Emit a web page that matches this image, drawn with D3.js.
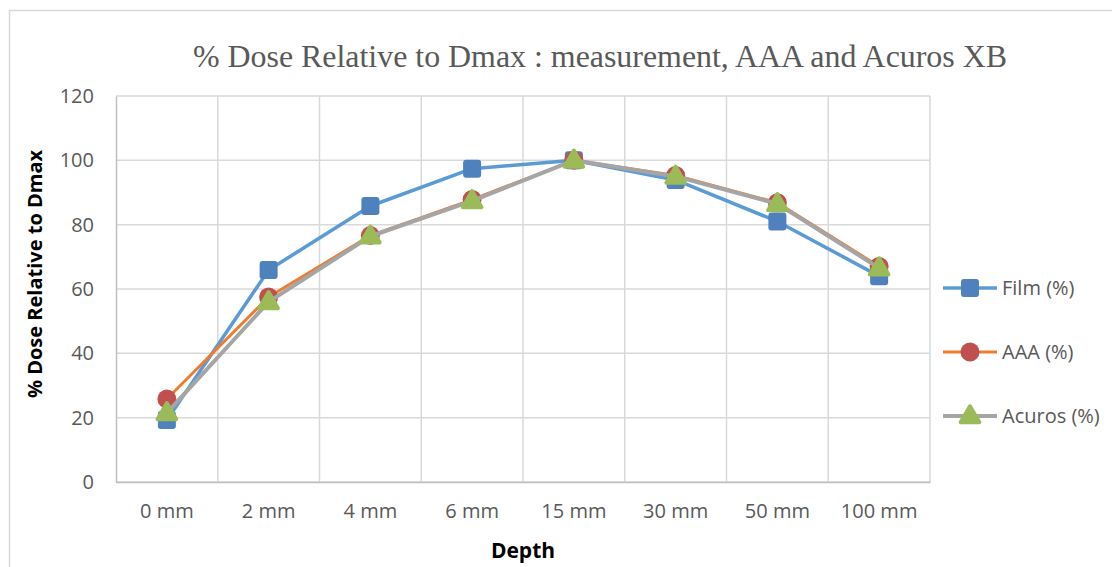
<!DOCTYPE html>
<html>
<head>
<meta charset="utf-8">
<script src="https://cdn.jsdelivr.net/npm/d3@7"></script>
<style>
  body { margin: 0; background: #fff; }
  text { font-family: "Open Sans", "Liberation Sans", sans-serif; }
</style>
</head>
<body>
<svg id="chart"></svg>
<script>
const svg_w = 1112;
const svg_h = 567;
const margin = {l:116, r:182, t:96, b:85};
const viz_w = svg_w - margin.l - margin.r;
const viz_h = svg_h - margin.t - margin.b;

// datos
const depths = ["0 mm","2 mm","4 mm","6 mm","15 mm","30 mm","50 mm","100 mm"];
const film = [19.3, 65.9, 85.8, 97.4, 100, 93.9, 81.0, 64.0];
const aaa = [25.8, 57.5, 76.6, 87.8, 100, 95.3, 86.8, 67.0];
const acuros = [21.5, 56.0, 76.4, 87.4, 100, 95.0, 86.5, 66.5];
const y_ticks = [0, 20, 40, 60, 80, 100, 120];

const series = [
  {name:"Film (%)", values:film, line:"#5b9bd5", lw:3.5, marker:"square", fill:"#4f81bd"},
  {name:"AAA (%)", values:aaa, line:"#ed7d31", lw:3, marker:"circle", fill:"#c0504d"},
  {name:"Acuros (%)", values:acuros, line:"#a5a5a5", lw:4, marker:"triangle", fill:"#9bbb59"}
];

let svg = d3.select("#chart")
  .attr("width", svg_w)
  .attr("height", svg_h);

// marco del gráfico
svg.append("rect")
  .attr("x", 9.5).attr("y", 10.5)
  .attr("width", svg_w + 10).attr("height", svg_h)
  .attr("fill", "none").attr("stroke", "#d9d9d9").attr("stroke-width", 1.5);

svg.append("text")
  .attr("x", 193).attr("y", 67)
  .attr("textLength", 814)
  .attr("lengthAdjust", "spacingAndGlyphs")
  .style("font-family", "'Liberation Serif', 'DejaVu Serif', serif")
  .style("font-size", "32px")
  .attr("fill", "#595959")
  .text("% Dose Relative to Dmax : measurement, AAA and Acuros XB");

let x_scale = d3.scaleBand()
  .domain(depths)
  .range([0, viz_w]);

let y_scale = d3.scaleLinear()
  .domain([0, 120])
  .range([viz_h, 0]);

let g = svg.append("g")
  .attr("transform", `translate(${margin.l},${margin.t})`);

// líneas de la cuadrícula
g.append("g")
  .selectAll("line")
  .data(y_ticks)
  .enter()
  .append("line")
  .attr("x1", 0).attr("x2", viz_w)
  .attr("y1", d => y_scale(d)).attr("y2", d => y_scale(d))
  .attr("stroke", "#d9d9d9").attr("stroke-width", 1.5);

g.append("g")
  .selectAll("line")
  .data(depths)
  .enter()
  .append("line")
  .attr("x1", d => x_scale(d) + x_scale.step()).attr("x2", d => x_scale(d) + x_scale.step())
  .attr("y1", 0).attr("y2", viz_h)
  .attr("stroke", "#d9d9d9").attr("stroke-width", 1.5);

// ejes
let x_axis = g.append("g")
  .attr("transform", `translate(0,${viz_h})`)
  .call(d3.axisBottom(x_scale).tickSize(0).tickPadding(22));
x_axis.select(".domain").attr("stroke", "#bfbfbf").attr("stroke-width", 1.5);
x_axis.selectAll("text").style("font-size", "20px").attr("fill", "#595959");

let y_axis = g.append("g")
  .call(d3.axisLeft(y_scale).tickValues(y_ticks).tickSize(0).tickPadding(22));
y_axis.select(".domain").attr("stroke", "#bfbfbf").attr("stroke-width", 1.5);
y_axis.selectAll("text").style("font-size", "20px").attr("fill", "#595959");

svg.append("text")
  .attr("transform", `translate(42,${margin.t + viz_h/2 - 15}) rotate(-90)`)
  .attr("text-anchor", "middle")
  .style("font-size", "20px").style("font-weight", "bold")
  .attr("fill", "#000")
  .text("% Dose Relative to Dmax");

svg.append("text")
  .attr("x", margin.l + viz_w/2).attr("y", 558)
  .attr("text-anchor", "middle")
  .style("font-size", "21px").style("font-weight", "bold")
  .attr("fill", "#000")
  .text("Depth");

function drawMarker(sel, type, fill) {
  if (type === "square") {
    sel.append("rect")
      .attr("x", -9).attr("y", -9).attr("width", 18).attr("height", 18)
      .attr("rx", 3).attr("fill", fill);
  } else if (type === "circle") {
    sel.append("circle").attr("r", 9.5).attr("fill", fill);
  } else {
    sel.append("path")
      .attr("d", d3.symbol(d3.symbolTriangle, 150)())
      .attr("transform", "translate(0,1)")
      .attr("fill", fill)
      .attr("stroke", fill).attr("stroke-width", 4).attr("stroke-linejoin", "round");
  }
}

let line = d3.line()
  .x((d,i) => x_scale(depths[i]) + x_scale.bandwidth()/2)
  .y(d => y_scale(d));

series.forEach(s => {
  g.append("path")
    .datum(s.values)
    .attr("d", line)
    .attr("fill", "none")
    .attr("stroke", s.line)
    .attr("stroke-width", s.lw)
    .attr("stroke-linejoin", "round");

  g.append("g")
    .selectAll("g")
    .data(s.values)
    .enter()
    .append("g")
    .attr("transform", (d,i) => `translate(${x_scale(depths[i]) + x_scale.bandwidth()/2},${y_scale(d)})`)
    .each(function() { drawMarker(d3.select(this), s.marker, s.fill); });
});

// leyenda
let legend = svg.append("g")
  .selectAll("g")
  .data(series)
  .enter()
  .append("g")
  .attr("transform", (d,i) => `translate(943,${288 + i*64})`);

legend.append("line")
  .attr("x1", 0).attr("x2", 54)
  .attr("stroke", d => d.line).attr("stroke-width", d => d.lw);

legend.append("g")
  .attr("transform", "translate(27,0)")
  .each(function(d) { drawMarker(d3.select(this), d.marker, d.fill); });

legend.append("text")
  .attr("x", 59).attr("y", 7)
  .style("font-size", "20px")
  .attr("fill", "#595959")
  .text(d => d.name);
</script>
</body>
</html>
